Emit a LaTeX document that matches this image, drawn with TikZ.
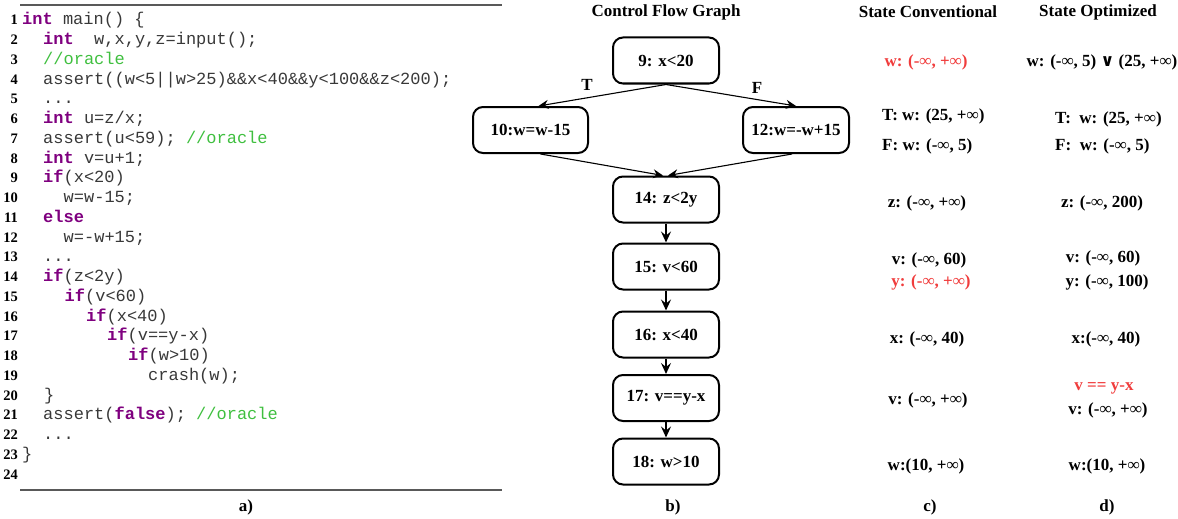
\documentclass[tikz,border=0pt]{standalone}
\usepackage{fontspec}
\setmainfont{Liberation Serif}
\setmonofont{Liberation Mono}
\newfontfamily\symfont{DejaVu Sans}
\usetikzlibrary{arrows.meta}
\definecolor{kwc}{HTML}{7F007F}
\definecolor{cmc}{HTML}{3FBF3F}
\definecolor{rdc}{HTML}{F03C3C}
\definecolor{codec}{HTML}{383838}
\newcommand{\kwd}[1]{{\color{kwc}\bfseries #1}}
\newcommand{\cmnt}[1]{{\color{cmc}#1}}
\newcommand{\inff}{∞}
\tikzset{
  codeline/.style={anchor=base west, inner sep=0pt, font=\ttfamily\fontsize{17}{20}\selectfont, text=codec},
  lnum/.style={anchor=base east, inner sep=0pt, font=\bfseries\fontsize{14.5}{16}\selectfont},
  title/.style={inner sep=0pt, font=\bfseries\fontsize{17}{20}\selectfont},
  stxt/.style={inner sep=0pt, font=\bfseries\fontsize{17}{20}\selectfont},
  sleft/.style={stxt, anchor=base west},
  cfgbox/.style={draw, rounded corners=10pt, line width=2pt, minimum width=106pt, minimum height=46pt, inner sep=0pt, font=\bfseries\fontsize{17}{20}\selectfont},
  thinarr/.style={line width=1.1pt, -{Stealth[length=10pt,width=9pt,inset=3.5pt]}},
  vertarr/.style={line width=1.6pt, -{Stealth[length=11pt,width=10pt,inset=4pt]}},
  rule/.style={draw=black!65, line width=1.3pt},
}
\begin{document}
\begin{tikzpicture}[x=1pt, y=-1pt]
\useasboundingbox (0,0) rectangle (1178,519);
% ---------- a) code listing
\draw[rule] (20,5) -- (502,5);
\draw[rule] (20,490) -- (502,490);
\def\ls{19.74}
\node[lnum] (n1) at (18,25) {1};
\node[lnum] (n2) at (18,{25+1*\ls}) {2};
\node[lnum] (n3) at (18,{25+2*\ls}) {3};
\node[lnum] (n4) at (18,{25+3*\ls}) {4};
\node[lnum] (n5) at (18,{25+4*\ls}) {5};
\node[lnum] (n6) at (18,{25+5*\ls}) {6};
\node[lnum] (n7) at (18,{25+6*\ls}) {7};
\node[lnum] (n8) at (18,{25+7*\ls}) {8};
\node[lnum] (n9) at (18,{25+8*\ls}) {9};
\node[lnum] (n10) at (18,{25+9*\ls}) {10};
\node[lnum] (n11) at (18,{25+10*\ls}) {11};
\node[lnum] (n12) at (18,{25+11*\ls}) {12};
\node[lnum] (n13) at (18,{25+12*\ls}) {13};
\node[lnum] (n14) at (18,{25+13*\ls}) {14};
\node[lnum] (n15) at (18,{25+14*\ls}) {15};
\node[lnum] (n16) at (18,{25+15*\ls}) {16};
\node[lnum] (n17) at (18,{25+16*\ls}) {17};
\node[lnum] (n18) at (18,{25+17*\ls}) {18};
\node[lnum] (n19) at (18,{25+18*\ls}) {19};
\node[lnum] (n20) at (18,{25+19*\ls}) {20};
\node[lnum] (n21) at (18,{25+20*\ls}) {21};
\node[lnum] (n22) at (18,{25+21*\ls}) {22};
\node[lnum] (n23) at (18,{25+22*\ls}) {23};
\node[lnum] (n24) at (18,{25+23*\ls}) {24};
\node[codeline] (c1) at (22,25) {\kwd{int} main() \{};
\node[codeline] (c2) at (43,{25+1*\ls}) {\kwd{int}~~w,x,y,z=input();};
\node[codeline] (c3) at (43,{25+2*\ls}) {\cmnt{//oracle}};
\node[codeline] (c4) at (43,{25+3*\ls}) {assert((w<5||w>25)\&\&x<40\&\&y<100\&\&z<200);};
\node[codeline] (c5) at (43,{25+4*\ls}) {...};
\node[codeline] (c6) at (43,{25+5*\ls}) {\kwd{int} u=z/x;};
\node[codeline] (c7) at (43,{25+6*\ls}) {assert(u<59); \cmnt{//oracle}};
\node[codeline] (c8) at (43,{25+7*\ls}) {\kwd{int} v=u+1;};
\node[codeline] (c9) at (43,{25+8*\ls}) {\kwd{if}(x<20)};
\node[codeline] (c10) at (63.5,{25+9*\ls}) {w=w-15;};
\node[codeline] (c11) at (43,{25+10*\ls}) {\kwd{else}};
\node[codeline] (c12) at (63.5,{25+11*\ls}) {w=-w+15;};
\node[codeline] (c13) at (43,{25+12*\ls}) {...};
\node[codeline] (c14) at (43,{25+13*\ls}) {\kwd{if}(z<2y)};
\node[codeline] (c15) at (64.5,{25+14*\ls}) {\kwd{if}(v<60)};
\node[codeline] (c16) at (86,{25+15*\ls}) {\kwd{if}(x<40)};
\node[codeline] (c17) at (107,{25+16*\ls}) {\kwd{if}(v==y-x)};
\node[codeline] (c18) at (128,{25+17*\ls}) {\kwd{if}(w>10)};
\node[codeline] (c19) at (148,{25+18*\ls}) {crash(w);};
\node[codeline] (c20) at (44,{25+19*\ls}) {\}};
\node[codeline] (c21) at (43,{25+20*\ls}) {assert(\kwd{false}); \cmnt{//oracle}};
\node[codeline] (c22) at (43,{25+21*\ls}) {...};
\node[codeline] (c23) at (22,{25+22*\ls}) {\}};
\node[title] (la) at (246,507) {a)};
% ---------- b) CFG
\node[title] (tb) at (666,12) {Control Flow Graph};
\node[cfgbox] (b9) at (666,60.5) {9: x<20};
\node[cfgbox, minimum width=115pt] (b10) at (530.5,130) {10:w=w-15};
\node[cfgbox] (b12) at (796,130) {12:w=-w+15};
\node[cfgbox] (b14) at (666,199.5) {14: z<2y};
\node[cfgbox] (b15) at (666,266.5) {15: v<60};
\node[cfgbox] (b16) at (666,334.5) {16: x<40};
\node[cfgbox] (b17) at (666,398) {17: v==y-x};
\node[cfgbox] (b18) at (666,461.5) {18: w>10};
\draw[thinarr] (b9.south) -- ([xshift=8pt]b10.north);
\draw[thinarr] (b9.south) -- (b12.north);
\draw[thinarr] ([xshift=10pt]b10.south) -- ([xshift=-3pt]b14.north);
\draw[thinarr] ([xshift=-4pt]b12.south) -- ([xshift=2pt]b14.north);
\draw[vertarr] (b14) -- (b15);
\draw[vertarr] (b15) -- (b16);
\draw[vertarr] (b16) -- (b17);
\draw[vertarr] (b17) -- (b18);
\node[title] (lT) at (587,85) {T};
\node[title] (lF) at (757,88) {F};
\node[title] (lb) at (673,507) {b)};
% ---------- c) State Conventional
\node[title] (tc) at (928,12) {State Conventional};
\node[stxt, text=rdc] (c_w) at (926,62) {w: (-\inff, +\inff)};
\node[sleft] (c_T) at (882,121) {T: w: (25, +\inff)};
\node[sleft] (c_F) at (882,150) {F: w: (-\inff, 5)};
\node[stxt] (c_z) at (927,203) {z: (-\inff, +\inff)};
\node[stxt] (c_v) at (929,260) {v: (-\inff, 60)};
\node[stxt, text=rdc] (c_y) at (931,282) {y: (-\inff, +\inff)};
\node[stxt] (c_x) at (927,339) {x: (-\inff, 40)};
\node[stxt] (c_v2) at (928,400) {v: (-\inff, +\inff)};
\node[stxt] (c_w2) at (926,466) {w:(10, +\inff)};
\node[title] (lc) at (930,507) {c)};
% ---------- d) State Optimized
\node[title] (td) at (1098,12) {State Optimized};
\node[stxt] (d_w) at (1102,62) {w: (-\inff, 5) {\symfont\bfseries ∨} (25, +\inff)};
\node[sleft] (d_T) at (1055,123) {T:\ \ w: (25, +\inff)};
\node[sleft] (d_F) at (1055,150) {F:\ \ w: (-\inff, 5)};
\node[stxt] (d_z) at (1102,203) {z: (-\inff, 200)};
\node[stxt] (d_v) at (1103,258) {v: (-\inff, 60)};
\node[stxt] (d_y) at (1107,282) {y: (-\inff, 100)};
\node[stxt] (d_x) at (1106,339) {x:(-\inff, 40)};
\node[stxt, text=rdc] (d_e) at (1104,388) {v == y-x};
\node[stxt] (d_v2) at (1108,410) {v: (-\inff, +\inff)};
\node[stxt] (d_w2) at (1107,466) {w:(10, +\inff)};
\node[title] (ld) at (1107,507) {d)};
\end{tikzpicture}
\end{document}
